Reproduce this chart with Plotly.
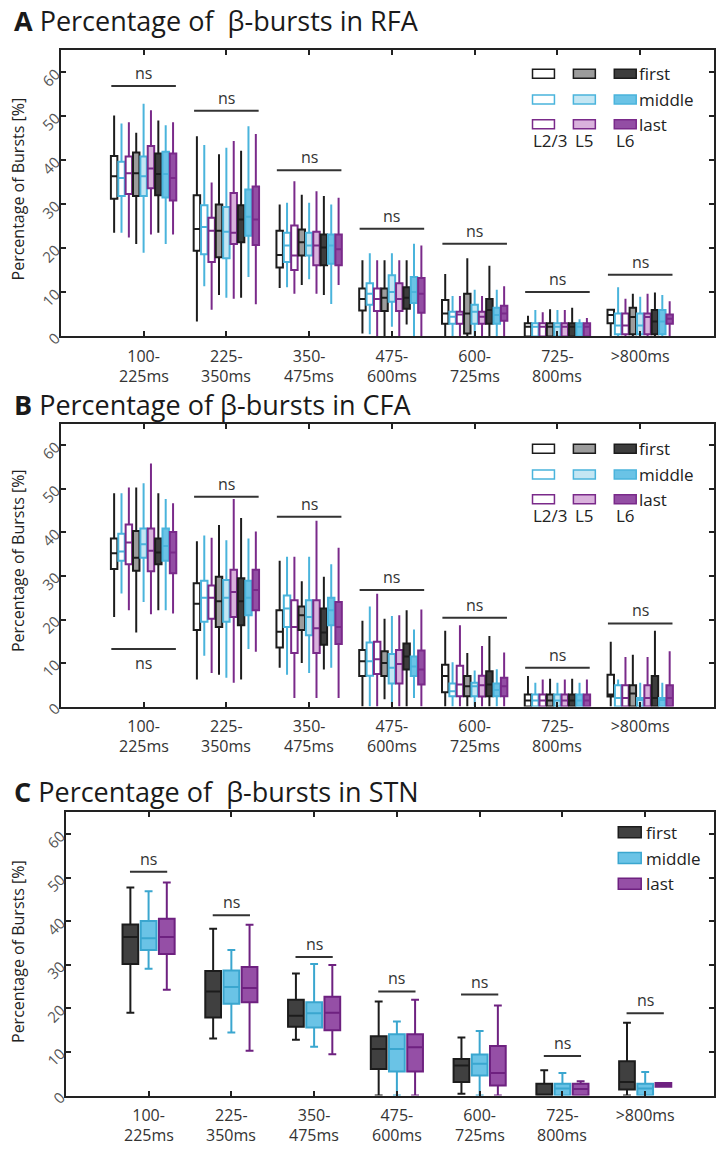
import plotly.graph_objects as go

W, H = 716, 1158
FONT = "Open Sans"

# ---------------- data ----------------
group_top = ["100-", "225-", "350-", "475-", "600-", "725-", ">800ms"]
group_bottom = ["225ms", "350ms", "475ms", "600ms", "725ms", "800ms", ""]
series_names = ["L2/3 first", "L2/3 middle", "L2/3 last",
                "L5 first", "L5 middle", "L5 last",
                "L6 first", "L6 middle", "L6 last"]
stn_names = ["first", "middle", "last"]
legend_rows = ["first", "middle", "last"]
legend_cols = ["L2/3", "L5", "L6"]

# Panel A (RFA): rows = series (L2/3 first ... L6 last), columns = duration groups
rfa_low = [[23.6, 3.4, 11.0, 0.7, 0, 0, 0],
           [23.6, 11.4, 11.2, 0.5, 0, 0, 0],
           [22.5, 6.1, 9.7, 0, 0, 0, 0],
           [21.0, 9.4, 11.7, 0, 0, 0, 0],
           [19.0, 8.8, 13.0, 2.2, 0, 0, 0],
           [23.2, 8.6, 9.7, 0, 0, 0, 0],
           [23.6, 8.8, 9.4, 2.7, 0, 0, 0],
           [21.0, 13.5, 7.4, 0, 0, 0, 0],
           [23.2, 7.3, 11.7, 0, 0, 0, 0]]
rfa_q1 = [[31.3, 19.5, 15.7, 5.9, 2.9, 0, 3.0],
          [31.9, 18.7, 16.9, 7.2, 2.9, 0, 0.5],
          [32.4, 16.9, 15.1, 5.8, 2.9, 0, 0.5],
          [31.9, 18.0, 18.4, 5.8, 0.7, 0, 0.5],
          [31.9, 17.8, 18.4, 7.9, 2.9, 0, 0.5],
          [33.7, 21.0, 16.2, 5.8, 2.9, 0, 0.5],
          [32.1, 21.4, 16.2, 6.3, 2.9, 0, 0.5],
          [31.6, 22.9, 16.5, 7.6, 2.9, 0, 0.5],
          [30.9, 20.8, 16.2, 5.4, 3.6, 0, 2.9]]
rfa_med = [[36.4, 24.4, 18.5, 8.5, 5.2, 2.2, 4.9],
           [36.0, 24.9, 20.7, 9.7, 4.5, 2.2, 2.5],
           [37.1, 24.0, 18.4, 8.5, 5.0, 2.2, 2.5],
           [37.1, 24.0, 21.4, 8.8, 5.2, 2.2, 4.4],
           [36.4, 23.8, 20.7, 10.1, 5.6, 2.2, 2.5],
           [38.2, 23.6, 20.7, 8.5, 4.5, 2.2, 4.4],
           [36.9, 26.6, 20.2, 8.8, 6.0, 2.2, 3.4],
           [36.9, 27.2, 20.7, 10.1, 4.9, 2.2, 3.4],
           [36.0, 26.6, 19.8, 9.7, 5.2, 2.2, 4.0]]
rfa_q3 = [[41.0, 32.1, 24.0, 10.9, 8.3, 3.0, 6.1],
          [39.7, 29.8, 23.6, 12.1, 5.6, 3.0, 5.2],
          [40.9, 27.0, 25.2, 10.9, 5.6, 3.0, 5.2],
          [41.8, 30.0, 24.3, 10.9, 9.7, 3.0, 6.5],
          [40.9, 29.4, 23.6, 13.9, 7.2, 3.0, 5.2],
          [43.3, 32.6, 23.8, 12.1, 5.6, 3.0, 5.2],
          [41.6, 29.8, 23.2, 11.2, 8.5, 3.0, 6.0],
          [42.0, 33.4, 23.2, 13.5, 6.5, 3.0, 6.0],
          [41.6, 34.1, 23.2, 13.3, 7.0, 3.0, 5.0]]
rfa_high = [[50.2, 45.5, 30.0, 17.3, 14.2, 4.7, 6.3],
            [48.4, 43.5, 30.4, 18.9, 9.2, 6.0, 11.2],
            [48.7, 35.0, 35.3, 17.3, 9.2, 5.5, 8.6],
            [46.3, 41.4, 32.2, 17.3, 17.8, 6.2, 9.7],
            [52.9, 42.9, 30.4, 18.9, 10.6, 6.0, 9.0],
            [51.4, 44.4, 33.0, 17.3, 9.2, 6.0, 9.7],
            [49.1, 42.2, 31.9, 17.3, 16.1, 6.5, 10.0],
            [48.0, 47.8, 30.0, 21.1, 10.6, 3.9, 9.4],
            [48.7, 46.0, 31.5, 20.7, 11.4, 4.2, 8.0]]

# Panel B (CFA)
cfa_low = [[20.6, 6.2, 8.9, 0, 0, 0, 0],
           [26.0, 11.7, 7.3, 0, 0, 0, 0],
           [22.1, 7.7, 2.0, 0, 0, 0, 0],
           [17.0, 7.3, 10.0, 1.7, 0, 0, 0],
           [24.0, 6.6, 7.7, 0, 0, 0, 0],
           [21.2, 5.5, 2.0, 0, 0, 0, 0],
           [22.1, 6.2, 8.5, 0, 0, 0, 0],
           [22.1, 13.2, 8.9, 2.0, 0, 0, 0],
           [21.4, 12.6, 2.0, 0, 0, 0, 0]]
cfa_q1 = [[31.6, 17.6, 13.6, 7.0, 3.3, 0, 2.3],
          [33.5, 19.5, 18.3, 7.1, 2.4, 0, 0],
          [32.7, 20.2, 12.3, 7.5, 2.4, 0, 0],
          [31.2, 18.3, 17.6, 7.0, 2.4, 0, 0],
          [34.2, 19.5, 16.4, 5.3, 2.4, 0, 0],
          [31.1, 20.6, 12.3, 5.3, 2.3, 0, 0],
          [32.7, 18.7, 14.2, 8.5, 2.4, 0, 0],
          [33.5, 21.0, 18.7, 7.0, 2.4, 0, 0],
          [30.6, 22.1, 14.4, 5.1, 2.4, 0, 0]]
cfa_med = [[35.2, 23.6, 17.2, 10.4, 7.0, 1.4, 2.8],
           [35.6, 25.0, 22.5, 10.4, 3.5, 1.4, 2.0],
           [37.7, 25.0, 18.3, 10.9, 5.1, 1.4, 2.0],
           [34.2, 24.2, 21.0, 10.0, 4.7, 1.4, 3.0],
           [37.3, 25.0, 20.6, 8.9, 4.7, 1.4, 1.5],
           [35.8, 26.3, 18.0, 9.8, 4.9, 1.4, 2.0],
           [35.4, 24.2, 17.0, 11.5, 5.1, 1.4, 2.0],
           [36.9, 25.0, 22.1, 9.2, 3.8, 1.4, 1.5],
           [35.4, 26.8, 18.3, 8.5, 4.7, 1.4, 2.0]]
cfa_q3 = [[38.6, 28.3, 22.1, 13.0, 9.6, 2.8, 7.3],
          [39.7, 28.9, 25.5, 14.7, 5.3, 2.8, 4.9],
          [41.8, 27.8, 24.4, 14.9, 9.4, 2.8, 4.9],
          [40.3, 29.8, 23.0, 12.7, 7.0, 2.8, 4.9],
          [40.9, 29.1, 24.4, 12.1, 5.5, 2.8, 2.0],
          [40.9, 31.4, 24.4, 13.0, 7.1, 2.8, 4.9],
          [38.6, 29.5, 22.5, 14.5, 8.1, 2.8, 7.0],
          [40.9, 28.9, 25.0, 11.5, 5.3, 2.8, 2.0],
          [40.1, 31.4, 24.0, 12.9, 6.6, 2.8, 4.9]]
cfa_high = [[49.0, 38.0, 33.5, 19.7, 17.4, 7.0, 14.9],
            [49.0, 39.3, 34.4, 23.0, 10.2, 5.5, 6.2],
            [50.3, 38.8, 34.4, 25.9, 18.7, 6.2, 11.4],
            [50.3, 41.7, 28.8, 20.2, 12.3, 6.4, 11.9],
            [51.3, 38.2, 34.4, 20.8, 8.3, 5.5, 5.5],
            [55.8, 47.7, 42.7, 21.0, 13.9, 6.2, 11.4],
            [49.0, 43.3, 29.8, 22.1, 16.2, 6.4, 17.4],
            [47.7, 38.6, 32.7, 17.7, 8.6, 5.5, 5.5],
            [46.7, 40.2, 36.5, 22.3, 12.4, 6.2, 12.7]]

# Panel C (STN): rows = first, middle, last
stn_low = [[19.0, 13.1, 12.8, 0, 0.4, 0, 0],
           [29.1, 14.5, 11.2, 0, 0, 0, 0],
           [24.3, 10.3, 9.5, 0, 0, 0, 2.0]]
stn_q1 = [[30.2, 17.9, 15.8, 6.1, 3.1, 0, 1.4],
          [33.4, 21.1, 15.6, 5.5, 4.6, 0, 0],
          [32.5, 21.4, 15.0, 5.5, 2.3, 0, 2.0]]
stn_med = [[36.4, 23.9, 18.3, 10.7, 6.9, 0, 3.1],
           [36.1, 24.9, 18.9, 10.7, 7.3, 1.6, 1.6],
           [36.4, 24.7, 19.0, 11.1, 5.2, 1.5, 2.5]]
stn_q3 = [[39.3, 28.6, 22.0, 13.6, 8.4, 2.7, 7.9],
          [40.1, 28.7, 21.4, 14.1, 9.4, 2.7, 2.7],
          [40.6, 29.5, 22.7, 14.1, 11.4, 2.7, 2.9]]
stn_high = [[47.8, 38.3, 28.0, 21.6, 13.3, 5.8, 16.7],
            [46.9, 33.4, 30.2, 17.0, 14.8, 5.2, 5.4],
            [48.9, 39.2, 30.0, 22.0, 20.7, 3.3, 2.9]]

# significance bar heights ("ns")
ns_rfa = [56.9, 51.3, 37.8, 24.5, 21.1, 10.1, 14.0]
ns_cfa = [13.2, 48.2, 43.6, 26.8, 20.4, 8.9, 19.1]
ns_stn = [51.4, 41.4, 31.8, 23.9, 23.2, 9.1, 18.9]

titles = ["Percentage of  β-bursts in RFA", "Percentage of β-bursts in CFA",
          "Percentage of  β-bursts in STN"]
panel_letters = ["A", "B", "C"]
ytitle = "Percentage of Bursts [%]"

# ---------------- styles ----------------
LINE = ["#1c1c1c", "#4ab4dc", "#7a2a8a"]            # first / middle / last
FILL = [["#ffffff", "#ffffff", "#ffffff"],          # L2/3
        ["#9c9c9c", "#c4e6f3", "#d9b2dc"],          # L5
        ["#3d3d3d", "#6ac3e6", "#934ea4"]]          # L6
STN_LINE = ["#1c1c1c", "#3aa6cf", "#6e2180"]
STN_FILL = ["#404040", "#6ac3e6", "#954fa6"]
AX = "#222222"


def px_x(p):
    return p / W


def px_y(p):
    return 1 - p / H


fig = go.Figure()

# panel geometry (pixels)
panels = [
    dict(xa="x", ya="y", left=61, top=51, zero=340),
    dict(xa="x2", ya="y2", left=61, top=428, zero=714),
    dict(xa="x3", ya="y3", left=66, top=821, zero=1107),
]
STEP = 83.0

multi = [(rfa_low, rfa_q1, rfa_med, rfa_q3, rfa_high),
         (cfa_low, cfa_q1, cfa_med, cfa_q3, cfa_high)]

for p in range(2):
    lo, q1, md, q3, hi = multi[p]
    for j in range(9):
        layer, pos = j // 3, j % 3
        xs = [i + (j - 4) * 0.089 for i in range(len(group_top))]
        fig.add_trace(go.Box(
            x=xs, lowerfence=lo[j], q1=q1[j], median=md[j], q3=q3[j], upperfence=hi[j],
            orientation="v", width=0.078, whiskerwidth=0, boxpoints=False,
            line=dict(color=LINE[pos], width=2), fillcolor=FILL[layer][pos],
            name=series_names[j], showlegend=False,
            xaxis=panels[p]["xa"], yaxis=panels[p]["ya"]))

for j in range(3):
    xs = [i + (j - 1) * 0.22 for i in range(len(group_top))]
    fig.add_trace(go.Box(
        x=xs, lowerfence=stn_low[j], q1=stn_q1[j], median=stn_med[j], q3=stn_q3[j],
        upperfence=stn_high[j], orientation="v", width=0.19, whiskerwidth=0.5,
        boxpoints=False, line=dict(color=STN_LINE[j], width=2), fillcolor=STN_FILL[j],
        name=stn_names[j], showlegend=False, xaxis="x3", yaxis="y3"))

layout = dict(
    width=W, height=H, margin=dict(l=0, r=0, t=0, b=0),
    paper_bgcolor="white", plot_bgcolor="white", boxmode="overlay",
    font=dict(family=FONT, color=AX),
)
annotations = []
shapes = []

for k, pn in enumerate(panels):
    sfx = "" if k == 0 else str(k + 1)
    xmax = -1 + (W - pn["left"]) / STEP
    layout["xaxis" + sfx] = dict(
        domain=[px_x(pn["left"]), 1], range=[-1, xmax], anchor="y" + sfx,
        tickvals=list(range(len(group_top))), ticktext=group_top,
        ticks="inside", ticklen=5, tickwidth=2, tickcolor=AX,
        showline=True, linewidth=2, linecolor=AX, mirror="ticks",
        showgrid=False, zeroline=False, ticklabelstandoff=4,
        tickfont=dict(size=16, color="#333333", family=FONT))
    layout["yaxis" + sfx] = dict(
        domain=[px_y(pn["zero"]), px_y(pn["top"])], range=[0, 65], anchor="x" + sfx,
        tickvals=[0, 10, 20, 30, 40, 50, 60], tickangle=-45,
        ticks="inside", ticklen=5, tickwidth=2, tickcolor=AX,
        showline=True, linewidth=2, linecolor=AX, mirror="ticks",
        showgrid=False, zeroline=False,
        tickfont=dict(size=15, color="#555555", family=FONT))

    # second line of the category labels
    for i, t in enumerate(group_bottom):
        if t:
            annotations.append(dict(
                text=t, xref=pn["xa"], yref="paper", x=i, y=px_y(pn["zero"] + 40),
                showarrow=False, xanchor="center", yanchor="middle",
                font=dict(size=16, color="#333333", family=FONT)))

    # panel title
    title_y = [21, 409, 800][k]
    annotations.append(dict(
        text="<b>" + panel_letters[k] + "</b> " + titles[k], xref="paper", yref="paper",
        x=px_x(12), y=px_y(title_y), showarrow=False, xanchor="left", yanchor="middle",
        font=dict(size=27, color="#1a1a1a", family=FONT)))

    # y-axis title
    annotations.append(dict(
        text=ytitle, xref="paper", yref="paper", x=px_x(18),
        y=px_y((pn["top"] + pn["zero"]) / 2 - 5 + (2 if k == 2 else 0)),
        textangle=-90, showarrow=False, xanchor="center", yanchor="middle",
        font=dict(size=16, color="#222222", family=FONT)))

# significance bars
ns_sets = [ns_rfa, ns_cfa, ns_stn]
half = [0.39, 0.39, 0.225]
for k, pn in enumerate(panels):
    for i, v in enumerate(ns_sets[k]):
        shapes.append(dict(type="line", xref=pn["xa"], yref=pn["ya"],
                           x0=i - half[k], x1=i + half[k], y0=v, y1=v,
                           line=dict(color="#333333", width=2)))
        below = (k == 1 and i == 0)
        annotations.append(dict(
            text="ns", xref=pn["xa"], yref=pn["ya"], x=i, y=v, showarrow=False,
            xanchor="center", yanchor="top" if below else "bottom",
            yshift=-1 if below else 0,
            font=dict(size=16, color="#333333", family=FONT)))

# legends for panels A and B (3x3 swatch grid)
col_left = [534, 575, 616]
for k, off in enumerate([0, 379]):
    rows_c = [74.5 + off, 100.5 + off, 125.5 + off]
    for r in range(3):
        for c in range(3):
            shapes.append(dict(
                type="rect", xref="paper", yref="paper",
                x0=px_x(col_left[c]), x1=px_x(col_left[c] + 22),
                y0=px_y(rows_c[r] + 4.5), y1=px_y(rows_c[r] - 4.5),
                fillcolor=FILL[c][r], line=dict(color=LINE[r], width=1.5)))
        annotations.append(dict(
            text=legend_rows[r], xref="paper", yref="paper", x=px_x(639),
            y=px_y(rows_c[r]), showarrow=False, xanchor="left", yanchor="middle",
            font=dict(size=17, color="#222222", family=FONT)))
    for c in range(3):
        annotations.append(dict(
            text=legend_cols[c], xref="paper", yref="paper",
            x=px_x(col_left[c] + 11 + (7 if c == 0 else 0)), y=px_y(142 + off),
            showarrow=False, xanchor="center", yanchor="middle",
            font=dict(size=17, color="#222222", family=FONT)))

# legend for panel C
for r in range(3):
    yc = [841, 867, 893][r]
    shapes.append(dict(
        type="rect", xref="paper", yref="paper", x0=px_x(620), x1=px_x(643),
        y0=px_y(yc + 5.5), y1=px_y(yc - 5.5), fillcolor=STN_FILL[r],
        line=dict(color=STN_LINE[r], width=1.5)))
    annotations.append(dict(
        text=stn_names[r], xref="paper", yref="paper", x=px_x(646), y=px_y(yc),
        showarrow=False, xanchor="left", yanchor="middle",
        font=dict(size=17, color="#222222", family=FONT)))

layout["annotations"] = annotations
layout["shapes"] = shapes
fig.update_layout(**layout)
fig.write_html("out.html")
